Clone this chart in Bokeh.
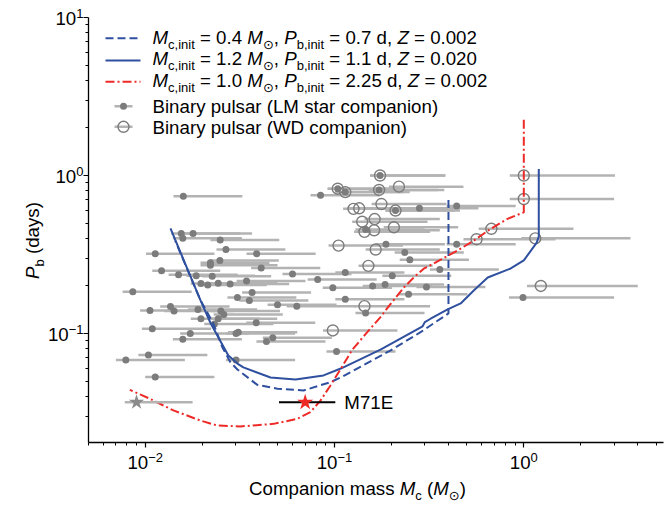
import math
from bokeh.plotting import figure
from bokeh.models import Label, FixedTicker, CustomJSTickFormatter
from bokeh.embed import file_html
from bokeh.resources import INLINE

# ---------------- data ----------------
# binary pulsars with low-mass (LM) star companions: Mc, Pb, Mc lower, Mc upper
lm_mc = [0.0159, 0.0155, 0.0179, 0.0158, 0.0249, 0.0267, 0.0113, 0.0388, 0.0248, 0.0221,
         0.0221, 0.041, 0.0122, 0.015, 0.0186, 0.0226, 0.060, 0.0343, 0.0815, 0.0197,
         0.0214, 0.0243, 0.0281, 0.0086, 0.0367, 0.0307, 0.0355, 0.0136, 0.0106, 0.0142,
         0.019, 0.0251, 0.026, 0.050, 0.0632, 0.0197, 0.0243, 0.0386, 0.0109, 0.0232,
         0.0173, 0.0158, 0.031, 0.0302, 0.0472, 0.0437, 0.1025, 0.0104, 0.0079, 0.0302,
         0.0113, 0.0844, 0.281, 0.442, 0.146, 0.187, 0.235, 0.25, 0.442, 0.36,
         0.114, 0.202, 0.098, 0.159, 0.185, 0.306, 0.246, 0.114, 0.146, 0.99,
         0.174, 0.104, 0.114, 0.172, 0.21]
lm_pb = [0.74, 0.43, 0.43, 0.40, 0.39, 0.34, 0.32, 0.32, 0.29, 0.28,
         0.27, 0.26, 0.25, 0.235, 0.232, 0.23, 0.238, 0.215, 0.22, 0.207,
         0.203, 0.208, 0.206, 0.184, 0.182, 0.169, 0.162, 0.148, 0.14, 0.139,
         0.142, 0.139, 0.132, 0.152, 0.149, 0.124, 0.124, 0.117, 0.107, 0.115,
         0.10, 0.092, 0.102, 0.10, 0.094, 0.089, 0.077, 0.073, 0.068, 0.068,
         0.053, 0.75, 0.62, 0.64, 0.455, 0.367, 0.325, 0.293, 0.367, 0.254,
         0.243, 0.232, 0.195, 0.20, 0.204, 0.197, 0.177, 0.165, 0.135, 0.169,
         1.0, 0.825, 0.785, 0.81, 0.60]
lm_lo = [0.0141, 0.0137, 0.0158, 0.0140, 0.0221, 0.0238, 0.0101, 0.0343, 0.0219, 0.0196,
         0.0196, 0.0363, 0.0109, 0.0133, 0.0165, 0.0200, 0.0531, 0.0304, 0.0721, 0.0174,
         0.0189, 0.0215, 0.0249, 0.0076, 0.0325, 0.0272, 0.0314, 0.0120, 0.0094, 0.0126,
         0.0168, 0.0222, 0.0230, 0.0443, 0.0559, 0.0174, 0.0215, 0.0342, 0.0096, 0.0205,
         0.0153, 0.0140, 0.0274, 0.0267, 0.0418, 0.0387, 0.0907, 0.0092, 0.0070, 0.0267,
         0.0100, 0.0747, 0.249, 0.391, 0.129, 0.165, 0.208, 0.221, 0.391, 0.319,
         0.101, 0.179, 0.0867, 0.141, 0.164, 0.271, 0.218, 0.101, 0.129, 0.835,
         0.154, 0.092, 0.101, 0.152, 0.186]
lm_hi = [0.0326, 0.0318, 0.0367, 0.0324, 0.0511, 0.0550, 0.0232, 0.0795, 0.0508, 0.0453,
         0.0500, 0.0841, 0.0249, 0.0308, 0.0381, 0.0463, 0.123, 0.0703, 0.167, 0.0404,
         0.0439, 0.0498, 0.0576, 0.0176, 0.0752, 0.0629, 0.0728, 0.0279, 0.0217, 0.0291,
         0.0390, 0.0515, 0.0533, 0.1025, 0.130, 0.0404, 0.0498, 0.0791, 0.0223, 0.0476,
         0.0355, 0.0324, 0.0636, 0.0619, 0.0968, 0.0896, 0.210, 0.0213, 0.0162, 0.0619,
         0.0232, 0.173, 0.576, 0.906, 0.299, 0.383, 0.482, 0.513, 0.906, 0.738,
         0.234, 0.414, 0.201, 0.326, 0.379, 0.627, 0.504, 0.234, 0.299, 3.0,
         0.385, 0.213, 0.234, 0.353, 0.431]

# binary pulsars with white-dwarf (WD) companions
wd_mc = [0.174, 0.104, 0.114, 0.172, 0.219, 0.126, 0.135, 0.177, 0.21, 0.14,
         0.163, 0.144, 0.162, 0.206, 0.105, 0.165, 0.563, 0.151, 0.144, 0.098,
         1.0, 1.0, 0.674, 1.15, 1.23]
wd_pb = [1.0, 0.825, 0.785, 0.81, 0.85, 0.615, 0.62, 0.66, 0.60, 0.51,
         0.53, 0.44, 0.45, 0.47, 0.36, 0.34, 0.395, 0.268, 0.149, 0.1045,
         1.0, 0.71, 0.46, 0.40, 0.20]
wd_lo = [0.154, 0.092, 0.101, 0.152, 0.194, 0.111, 0.119, 0.157, 0.186, 0.124,
         0.144, 0.127, 0.143, 0.182, 0.093, 0.146, 0.48, 0.134, 0.127, 0.087,
         0.843, 0.843, 0.578, 0.97, 1.04]
wd_hi = [0.385, 0.23, 0.25, 0.38, 0.48, 0.28, 0.30, 0.39, 0.46, 0.31,
         0.36, 0.32, 0.36, 0.45, 0.23, 0.36, 1.47, 0.33, 0.32, 0.215,
         3.03, 3.0, 1.83, 3.66, 4.0]

# evolutionary tracks
trk1_mc = [0.4, 0.4, 0.285, 0.198, 0.108, 0.0952, 0.0686, 0.050, 0.0391, 0.0307,
           0.0282, 0.0256, 0.0229, 0.0196, 0.0144]
trk1_pb = [0.70, 0.134, 0.102, 0.0782, 0.0527, 0.0492, 0.0436, 0.0447, 0.0473, 0.0592,
           0.0658, 0.0814, 0.1157, 0.162, 0.387]
trk2_mc = [1.2, 1.2, 1.17, 1.0, 0.853, 0.645, 0.544, 0.464, 0.396, 0.322, 0.30, 0.292,
           0.175, 0.108, 0.0875, 0.0622, 0.0459, 0.033, 0.0307, 0.0275, 0.0249, 0.0221,
           0.0196, 0.0136]
trk2_pb = [1.1, 0.41, 0.376, 0.29, 0.258, 0.226, 0.187, 0.155, 0.142, 0.124, 0.118, 0.111,
           0.079, 0.060, 0.0543, 0.0511, 0.0527, 0.061, 0.0645, 0.0725, 0.090, 0.117,
           0.162, 0.462]
trk3_mc = [1.0, 1.0, 0.82, 0.669, 0.546, 0.446, 0.364, 0.296, 0.263, 0.233, 0.198, 0.175,
           0.149, 0.124, 0.108, 0.0952, 0.0843, 0.0746, 0.0635, 0.0477, 0.0318, 0.0239,
           0.0196, 0.0141, 0.0106, 0.0083]
trk3_pb = [2.25, 0.585, 0.532, 0.46, 0.388, 0.335, 0.293, 0.257, 0.227, 0.196, 0.154, 0.127,
           0.102, 0.0788, 0.0598, 0.0469, 0.0376, 0.0318, 0.0288, 0.0268, 0.0258, 0.0262,
           0.0281, 0.0326, 0.0386, 0.044]

# M71E and the grey comparison star
m71e_mc, m71e_pb, m71e_lo, m71e_hi = [0.070], [0.0367], [0.0509], [0.101]
gst_mc, gst_pb, gst_lo, gst_hi = [0.009], [0.0367], [0.0078], [0.0178]

legend_labels = [
    [("M", "i"), ("c,init", "sub"), (" = 0.4 ", ""), ("M", "i"), ("\u2299", "sun"), (", ", ""),
     ("P", "i"), ("b,init", "sub"), (" = 0.7 d, ", ""), ("Z", "i"), (" = 0.002", "")],
    [("M", "i"), ("c,init", "sub"), (" = 1.2 ", ""), ("M", "i"), ("\u2299", "sun"), (", ", ""),
     ("P", "i"), ("b,init", "sub"), (" = 1.1 d, ", ""), ("Z", "i"), (" = 0.020", "")],
    [("M", "i"), ("c,init", "sub"), (" = 1.0 ", ""), ("M", "i"), ("\u2299", "sun"), (", ", ""),
     ("P", "i"), ("b,init", "sub"), (" = 2.25 d, ", ""), ("Z", "i"), (" = 0.002", "")],
    [("Binary pulsar (LM star companion)", "")],
    [("Binary pulsar (WD companion)", "")],
]
x_ticks = [0.01, 0.1, 1.0]
x_tick_exp = ["\u22122", "\u22121", "0"]
y_ticks = [10.0, 1.0, 0.1]
y_tick_exp = ["1", "0", "\u22121"]
x_lim = (0.005, 5.5)     # extent of the drawn x axis
y_lim = (0.0205, 10.0)   # extent of the drawn y axis

# ---------------- geometry ----------------
W, H = 666, 507
PX_X0, PPD_X = 523.3, 189.3   # screen x of Mc = 1, pixels per decade
PX_Y0, PPD_Y = 175.0, 158.0   # screen y of Pb = 1, pixels per decade


def sx2d(sx):
    return 10 ** ((sx - PX_X0) / PPD_X)


def sy2d(sy):
    return 10 ** ((PX_Y0 - sy) / PPD_Y)


def d2sx(x):
    return PX_X0 + math.log10(x) * PPD_X


def d2sy(y):
    return PX_Y0 - math.log10(y) * PPD_Y


ADV = {' ': 278, '(': 333, ')': 333, ',': 278, '.': 278, '=': 584, '\u2212': 584,
       'C': 722, 'M': 833, 'P': 667, 'Z': 611, 'B': 667, 'L': 556, 'W': 944, 'D': 722, 'E': 667,
       'a': 556, 'b': 556, 'c': 500, 'd': 556, 'e': 556, 'i': 222, 'l': 222, 'm': 833,
       'n': 556, 'o': 556, 'p': 556, 'r': 333, 's': 500, 't': 278, 'u': 556, 'y': 500,
       '\u2299': 838}


def tw(s, size):
    return sum(ADV.get(ch, 556) for ch in s) / 1000.0 * size


FONT = "Liberation Sans"
MAIN, SUB = 18.7, 13
SUBDROP, SUPRISE = 5, 6.5
KBASE = 0.32   # correction: rendered baseline sits lower than the anchor

p = figure(width=W, height=H, x_axis_type="log", y_axis_type="log",
           x_range=(sx2d(0), sx2d(W)), y_range=(sy2d(H), sy2d(0)),
           output_backend="svg", toolbar_location=None,
           min_border_left=0, min_border_right=0, min_border_top=0, min_border_bottom=0)
p.outline_line_color = None
p.grid.visible = False
p.background_fill_color = "white"
p.border_fill_color = "white"

minors_x = [m * 10.0 ** e for e in (-3, -2, -1, 0) for m in range(2, 10)]
minors_x = [v for v in minors_x if x_lim[0] <= v <= x_lim[1]]
minors_y = [m * 10.0 ** e for e in (-2, -1, 0) for m in range(2, 10)]
minors_y = [v for v in minors_y if y_lim[0] <= v <= y_lim[1]]
p.xaxis.ticker = FixedTicker(ticks=x_ticks, minor_ticks=minors_x)
p.yaxis.ticker = FixedTicker(ticks=y_ticks, minor_ticks=minors_y)
p.xaxis.fixed_location = y_lim[0]
p.xaxis.bounds = x_lim
p.yaxis.fixed_location = x_lim[0]
p.yaxis.bounds = y_lim
for ax in (p.xaxis[0], p.yaxis[0]):
    ax.formatter = CustomJSTickFormatter(code="return ''")
    ax.major_label_text_font_size = "0px"
    ax.axis_line_width = 1.3
    ax.axis_line_color = "black"
    ax.major_tick_in = 0
    ax.major_tick_out = 5
    ax.minor_tick_in = 0
    ax.minor_tick_out = 3
    ax.major_tick_line_width = 1.2
    ax.minor_tick_line_width = 1

BAR = "#b3b3b3"
DOT = "#7c7c7c"
BLUE = "#2f4f9f"
RED = "#ee2a27"

# error bars
p.segment(x0=lm_lo, y0=lm_pb, x1=lm_hi, y1=lm_pb, line_color=BAR, line_width=2.5)
p.segment(x0=wd_lo, y0=wd_pb, x1=wd_hi, y1=wd_pb, line_color=BAR, line_width=2.5)
p.scatter(wd_mc, wd_pb, marker="circle", size=11, fill_color=None, line_color=DOT, line_width=1.4)
p.scatter(lm_mc, lm_pb, marker="circle", size=7, fill_color=DOT, line_color=None)

# tracks
p.line(trk1_mc, trk1_pb, line_color=BLUE, line_width=2, line_dash="8 4")
p.line(trk2_mc, trk2_pb, line_color=BLUE, line_width=2)
p.line(trk3_mc, trk3_pb, line_color=RED, line_width=2, line_dash="9 3 2 3")

# stars
p.segment(x0=gst_lo, y0=gst_pb, x1=gst_hi, y1=gst_pb, line_color=BAR, line_width=2.5)
p.scatter(gst_mc, gst_pb, marker="star", size=16, fill_color="#8a8a8a", line_color=None)
p.segment(x0=m71e_lo, y0=m71e_pb, x1=m71e_hi, y1=m71e_pb, line_color="black", line_width=2)
p.scatter(m71e_mc, m71e_pb, marker="star", size=17, fill_color=RED, line_color=None)


def lab(sx, sy, text, size, italic=False, font=FONT, angle=0.0):
    n = len(text) - len(text.lstrip(" "))
    if n:
        adv = tw(" " * n, size)
        if angle:
            sy -= adv
        else:
            sx += adv
        text = text.lstrip(" ")
    if angle:
        sx -= KBASE * size
    else:
        sy -= KBASE * size
    p.add_layout(Label(x=sx2d(sx), y=sy2d(sy), text=text, text_font=font,
                       text_font_size=f"{size}px", text_font_style="italic" if italic else "normal",
                       text_color="black", text_align="left", text_baseline="alphabetic",
                       angle=angle))


def runs(sx, sy, parts):
    for text, kind in parts:
        if kind == "sub":
            lab(sx, sy + SUBDROP, text, SUB)
            sx += tw(text, SUB)
        elif kind == "sun":
            lab(sx, sy + SUBDROP, text, SUB, font="DejaVu Sans")
            sx += tw(text, SUB)
        else:
            lab(sx, sy, text, MAIN, italic=(kind == "i"))
            sx += tw(text, MAIN)


# legend
leg_line_y = [37.7, 60.0, 81.3]
leg_text_y = [42.7, 64.3, 86.0, 112.0, 133.3]
p.line([sx2d(105), sx2d(140)], [sy2d(leg_line_y[0])] * 2, line_color=BLUE, line_width=2, line_dash="8 4")
p.line([sx2d(105), sx2d(140)], [sy2d(leg_line_y[1])] * 2, line_color=BLUE, line_width=2)
p.line([sx2d(105), sx2d(140)], [sy2d(leg_line_y[2])] * 2, line_color=RED, line_width=2, line_dash="9 3 2 3")
p.line([sx2d(114), sx2d(132)], [sy2d(105.7)] * 2, line_color=BAR, line_width=2.5)
p.scatter([sx2d(123)], [sy2d(105.7)], marker="circle", size=7, fill_color=DOT, line_color=None)
p.line([sx2d(114), sx2d(132)], [sy2d(126.3)] * 2, line_color=BAR, line_width=2.5)
p.scatter([sx2d(123)], [sy2d(126.3)], marker="circle", size=11, fill_color=None, line_color=DOT, line_width=1.4)
for parts, y in zip(legend_labels, leg_text_y):
    runs(152, y, parts)

# M71E label
lab(d2sx(m71e_hi[0]) + 9, d2sy(m71e_pb[0]) + 6.5, "M71E", MAIN)

# tick labels
for v, e in zip(x_ticks, x_tick_exp):
    total = tw("10", MAIN) + tw(e, SUB)
    x0 = d2sx(v) - total / 2
    lab(x0, 467.7, "10", MAIN)
    lab(x0 + tw("10", MAIN), 467.7 - SUPRISE, e, SUB)
for v, e in zip(y_ticks, y_tick_exp):
    total = tw("10", MAIN) + tw(e, SUB)
    x0 = 83 - total
    yb = d2sy(v) + 7
    lab(x0, yb, "10", MAIN)
    lab(x0 + tw("10", MAIN), yb - SUPRISE, e, SUB)

# x-axis title
xparts = [("Companion mass ", ""), ("M", "i"), ("c", "sub"), (" (", ""), ("M", "i"), ("\u2299", "sun"), (")", "")]
xw = sum(tw(t, SUB if k in ("sub", "sun") else MAIN) for t, k in xparts)
runs(357 - xw / 2, 494, xparts)

# y-axis title (rotated)
ybase = 38
ycur = 240 + (tw("P", MAIN) + tw("b", SUB) + tw(" (days)", MAIN)) / 2
lab(ybase, ycur, "P", MAIN, italic=True, angle=math.pi / 2)
ycur -= tw("P", MAIN)
lab(ybase + SUBDROP, ycur, "b", SUB, angle=math.pi / 2)
ycur -= tw("b", SUB)
lab(ybase, ycur, " (days)", MAIN, angle=math.pi / 2)

open("out.html", "w").write(file_html(p, INLINE))
